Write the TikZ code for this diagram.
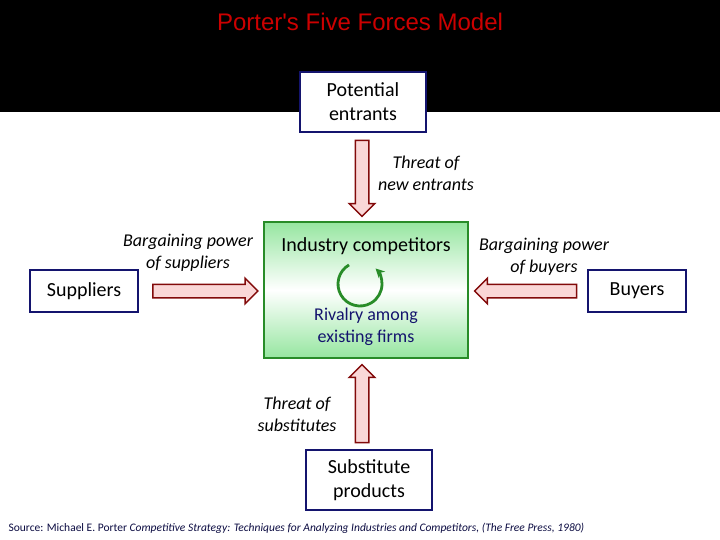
\documentclass[tikz,border=0pt]{standalone}
\usepackage{fontspec}
\setmainfont{Carlito}
\newfontfamily\arialf{Liberation Sans}
\usetikzlibrary{shapes.arrows,arrows.meta}
\definecolor{navyb}{RGB}{20,20,110}
\definecolor{darkred}{RGB}{130,10,10}
\definecolor{pinkf}{RGB}{250,215,215}
\definecolor{greenb}{RGB}{40,140,40}
\definecolor{lgreen}{RGB}{150,230,160}
\tikzset{
 boxw/.style={draw=navyb,line width=2.2pt,fill=white,align=center,font=\fontsize{20}{24}\selectfont,inner sep=0pt},
 fatarrow/.style={single arrow,draw=darkred,fill=pinkf,line width=1.5pt,minimum height=#1,single arrow head extend=6pt,inner xsep=0pt,inner ysep=6pt,single arrow tip angle=90},
 lbl/.style={font=\fontsize{18}{22}\selectfont\itshape,align=center,text=black}
}
\begin{document}
\begin{tikzpicture}[x=1pt,y=-1pt]
\useasboundingbox (0,0) rectangle (720,540);
\fill[black] (0,0) rectangle (720,112);
\node (title) at (360,22) {\arialf\fontsize{24}{26}\selectfont\color{red!80!black}Porter's Five Forces Model};
\node[boxw,minimum width=126pt,minimum height=60pt] (pe) at (363,102) {Potential\\entrants};
\node[fatarrow=76pt,rotate=-90] (a1) at (362,175) {};
\node[lbl] (l1) at (426,173) {Threat of\\new entrants};
\node[draw=greenb,line width=2.2pt,minimum width=204pt,minimum height=136pt,inner sep=0pt,
  top color=lgreen,bottom color=lgreen,middle color=white] (ind) at (366,290) {};
\node[font=\fontsize{20}{24}\selectfont] (ic) at (366,246) {Industry competitors};
\coordinate (cc) at (360,284);
\draw[greenb,line width=2.8pt,-{Stealth[length=9pt,width=9pt]}] (cc) ++(240:22) arc[start angle=240,end angle=-45,radius=22];
\node[font=\fontsize{18}{22}\selectfont,text=navyb,align=center] (riv) at (366,327) {Rivalry among\\existing firms};
\node[boxw,minimum width=108pt,minimum height=42pt] (sup) at (84,291) {Suppliers};
\node[fatarrow=105pt] (a2) at (202,291) {};
\node[lbl] (l2) at (188,253) {Bargaining power\\of suppliers};
\node[boxw,minimum width=98pt,minimum height=42pt] (buy) at (637,291) {Buyers};
\node[fatarrow=102pt,rotate=180] (a3) at (529,291) {};
\node[lbl] (l3) at (544,257) {Bargaining power\\of buyers};
\node[fatarrow=78pt,rotate=90] (a4) at (362,407) {};
\node[lbl] (l4) at (297,414) {Threat of\\substitutes};
\node[boxw,minimum width=126pt,minimum height=60pt] (sp) at (369,480) {Substitute\\products};
\node[anchor=west,font=\fontsize{11.5}{13}\selectfont,text=navyb!60!black] (src) at (5,528) {Source: Michael E. Porter \textit{Competitive Strategy: Techniques for Analyzing Industries and Competitors, (The Free Press, 1980)}};
\end{tikzpicture}
\end{document}
